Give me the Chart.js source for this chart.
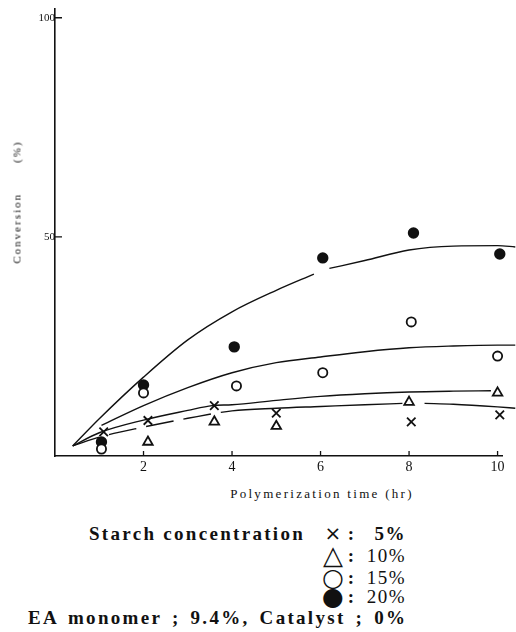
<!DOCTYPE html>
<html>
<head>
<meta charset="utf-8">
<script src="https://cdn.jsdelivr.net/npm/chart.js@4.4.0/dist/chart.umd.min.js"></script>
<style>
  body { margin: 0; background: #fff; }
  #wrap { position: relative; width: 516px; height: 632px; font-family: "Liberation Serif", serif; color: #111; }
  canvas { position: absolute; left: 0; top: 0; }
  .txt { position: absolute; white-space: pre; line-height: 1; }
  #yTitle { left: 17px; top: 202px; font-size: 11px; letter-spacing: 2px; transform: translate(-50%, -50%) rotate(-90deg); }
  #xTitle { left: 322px; top: 493px; font-size: 13px; letter-spacing: 2.3px; transform: translate(-50%, -50%); }
  .cap { font-size: 19px; font-weight: bold; letter-spacing: 2.3px; transform: translateY(-50%); }
  .sym { font-family: "DejaVu Sans", sans-serif; transform: translate(-50%, -50%); }
  .colon { font-size: 19px; font-weight: bold; transform: translate(-50%, -50%); }
  .val { font-size: 19px; letter-spacing: 1.5px; transform: translateY(-50%); text-align: right; }
</style>
</head>
<body>
<div id="wrap">
  <canvas id="convChart" width="516" height="480"></canvas>
  <div class="txt" id="yTitle">Conversion<span style="margin-left:30px">(%)</span></div>
  <div class="txt" id="xTitle">Polymerization time (hr)</div>

  <div class="txt cap" style="left:89px; top:533px">Starch concentration</div>

  <div class="txt sym" style="left:333px; top:533px; font-size:20px">×</div>
  <div class="txt sym" style="left:333px; top:555px; font-size:26px">△</div>
  <div class="txt sym" style="left:333px; top:577px; font-size:25px">○</div>
  <div class="txt sym" style="left:333px; top:596px; font-size:25px">●</div>

  <div class="txt colon" style="left:351px; top:533px">:</div>
  <div class="txt colon" style="left:351px; top:555px">:</div>
  <div class="txt colon" style="left:351px; top:577px">:</div>
  <div class="txt colon" style="left:351px; top:596px">:</div>

  <div class="txt val" style="right:110px; top:533px; font-weight:bold">5%</div>
  <div class="txt val" style="right:110px; top:555px">10%</div>
  <div class="txt val" style="right:110px; top:577px">15%</div>
  <div class="txt val" style="right:110px; top:596px">20%</div>

  <div class="txt cap" style="left:28px; top:617px; word-spacing:3px">EA monomer ; 9.4%, Catalyst ; 0%</div>
</div>
<script>
// Axis ticks
const xTicks = [2, 4, 6, 8, 10];
const yTicks = [50, 100];

// Measured points (starch concentration)
const time5 = [1.1, 2.1, 3.6, 5.0, 8.05, 10.05];
const conv5 = [5.5, 8.1, 11.5, 9.8, 7.8, 9.4];
const time10 = [2.1, 3.6, 5.0, 8.0, 10.0];
const conv10 = [3.2, 7.8, 6.8, 12.3, 14.4];
const time15 = [1.05, 2.0, 4.1, 6.05, 8.05, 10.0];
const conv15 = [1.6, 14.4, 16.0, 19.0, 30.6, 22.8];
const time20 = [1.05, 2.0, 4.05, 6.05, 8.1, 10.05];
const conv20 = [3.2, 16.2, 24.9, 45.2, 50.9, 46.1];

// Hand-drawn curves (null = break in the line)
const curveTime20 = [0.4, 1, 2, 3, 4, 5, 5.85, 6.0, 6.2, 7, 8, 9, 10, 10.4];
const curveConv20 = [2.3, 8.5, 18, 26.5, 32.9, 37.8, 41.5, null, 42.8, 44.6, 47, 47.9, 48, 47.7];
const curveTime15 = [1.05, 2, 3, 4, 5, 6, 7, 8, 9, 10, 10.4];
const curveConv15 = [7, 11.5, 15.6, 19, 21.3, 22.6, 23.8, 24.7, 25.1, 25.3, 25.3];
const curveTime10 = [0.4, 1, 2, 3, 3.55, 4, 5, 6, 7, 8, 9, 9.85, 9.95, 10.25, 10.4];
const curveConv10 = [2.3, 5.3, 8.2, 10.4, 11.5, 11.7, 12.7, 13.6, 14.2, 14.6, 14.8, 14.9, null, 15, 15];
const curveTime5 = [0.4, 1, 2, 3, 4, 5, 6, 7, 7.85, 8.1, 8.35, 9, 10, 10.4];
const curveConv5 = [2.3, 4.3, 6.6, 8.6, 10.3, 10.9, 11.3, 11.7, 12, null, 12, 11.8, 11.2, 10.9];

const ink = '#111';
const serif = '"Liberation Serif", serif';
const pts = (xs, ys) => xs.map((x, i) => ({ x: x, y: ys[i] }));

function curve(xs, ys, dashedBelow) {
    return {
        data: pts(xs, ys),
        showLine: true,
        pointRadius: 0,
        borderColor: ink,
        borderWidth: 1.4,
        cubicInterpolationMode: 'monotone',
        spanGaps: false,
        clip: false,
        order: 2,
        segment: dashedBelow ? {
            borderDash: ctx => ctx.p0.parsed.x < dashedBelow ? [28, 10] : undefined
        } : undefined
    };
}

function marks(xs, ys, style, radius, fill) {
    return {
        data: pts(xs, ys),
        pointStyle: style,
        pointRadius: radius,
        pointBorderWidth: 1.8,
        pointBorderColor: ink,
        pointBackgroundColor: fill,
        showLine: false,
        clip: false,
        order: 1
    };
}

// short tick marks drawn inside the axes
const innerTicks = {
    id: 'innerTicks',
    afterDatasetsDraw(chart) {
        const { ctx, chartArea, scales } = chart;
        ctx.save();
        ctx.strokeStyle = ink;
        ctx.lineWidth = 1.3;
        ctx.beginPath();
        xTicks.forEach(v => {
            const px = scales.x.getPixelForValue(v);
            ctx.moveTo(px, chartArea.bottom);
            ctx.lineTo(px, chartArea.bottom - 5);
        });
        yTicks.forEach(v => {
            const py = scales.y.getPixelForValue(v);
            ctx.moveTo(chartArea.left, py);
            ctx.lineTo(chartArea.left + 7, py);
        });
        ctx.stroke();
        ctx.restore();
    }
};

new Chart(document.getElementById('convChart'), {
    type: 'scatter',
    data: {
        datasets: [
            marks(time5, conv5, 'crossRot', 6, ink),
            marks(time10, conv10, 'triangle', 5.5, '#fff'),
            marks(time15, conv15, 'circle', 4.6, '#fff'),
            marks(time20, conv20, 'circle', 4.8, ink),
            curve(curveTime20, curveConv20),
            curve(curveTime15, curveConv15),
            curve(curveTime10, curveConv10),
            curve(curveTime5, curveConv5, 3.6)
        ]
    },
    options: {
        responsive: false,
        animation: false,
        layout: { padding: { top: 9, right: 14, left: 0, bottom: 0 } },
        plugins: {
            legend: { display: false },
            tooltip: { enabled: false }
        },
        scales: {
            x: {
                type: 'linear',
                min: 0,
                max: 10.1,
                afterBuildTicks: s => { s.ticks = xTicks.map(v => ({ value: v })); },
                afterFit: s => { s.height = 24; },
                grid: { drawOnChartArea: false, drawTicks: false },
                border: { color: ink, width: 1.6 },
                ticks: {
                    color: ink,
                    padding: 3,
                    maxRotation: 0,
                    font: { family: serif, size: 14 }
                }
            },
            y: {
                min: 0,
                max: 102,
                afterBuildTicks: s => { s.ticks = yTicks.map(v => ({ value: v })); },
                afterFit: s => { s.width = 55; },
                grid: { drawOnChartArea: false, drawTicks: false },
                border: { color: ink, width: 1.6 },
                ticks: {
                    color: ink,
                    padding: 0,
                    font: { family: serif, size: 11 }
                }
            }
        }
    },
    plugins: [innerTicks]
});
</script>
</body>
</html>
